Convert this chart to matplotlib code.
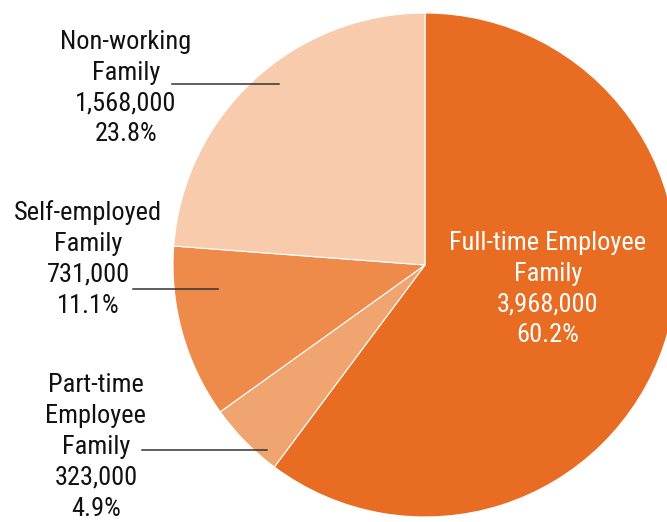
import matplotlib
matplotlib.use("Agg")
import matplotlib.pyplot as plt

# family types, counts and shares (clockwise from top)
labels = ["Full-time Employee\nFamily", "Part-time\nEmployee\nFamily",
          "Self-employed\nFamily", "Non-working\nFamily"]
counts = ["3,968,000", "323,000", "731,000", "1,568,000"]
shares = [60.2, 4.9, 11.1, 23.8]
colors = ["#E86C22", "#F0A470", "#EE8B4B", "#F8CBAD"]

plt.rcParams["font.family"] = ["Roboto Condensed", "Roboto", "DejaVu Sans"]

W, H = 667, 522
CX, CY, R = 425, 265, 252   # pie centre and radius in pixels


def px(x, y):
    # pixel (from top-left) -> data coords of unit-radius pie
    return (x - CX) / R, (CY - y) / R


fig = plt.figure(figsize=(W / 100, H / 100), dpi=100)
ax = fig.add_axes([0, 0, 1, 1])
ax.pie(shares, colors=colors, startangle=90, counterclock=False,
       radius=1, wedgeprops=dict(edgecolor="white", linewidth=0.8))
ax.set_xlim(px(0, 0)[0], px(W, 0)[0])
ax.set_ylim(px(0, H)[1], px(0, 0)[1])
ax.set_aspect("equal")
ax.axis("off")

# label blocks: centre x, centre y (pixels), colour
spots = [(548, 289, "white"), (96, 447, "#111111"),
         (88, 259, "#111111"), (126, 88, "#111111")]
for lab, cnt, sh, (x, y, c) in zip(labels, counts, shares, spots):
    tx, ty = px(x, y)
    ax.text(tx, ty, f"{lab}\n{cnt}\n{sh}%", ha="center", va="center",
            fontsize=19, color=c, linespacing=1.36)

# leader lines
leaders = [((142, 450), (267, 450)), ((133, 289), (218, 289)),
           ((172, 84), (279, 84))]
for a, b in leaders:
    (x0, y0), (x1, y1) = px(*a), px(*b)
    ax.plot([x0, x1], [y0, y1], color="#333333", lw=1.1)

fig.savefig("out.png", dpi=100)
